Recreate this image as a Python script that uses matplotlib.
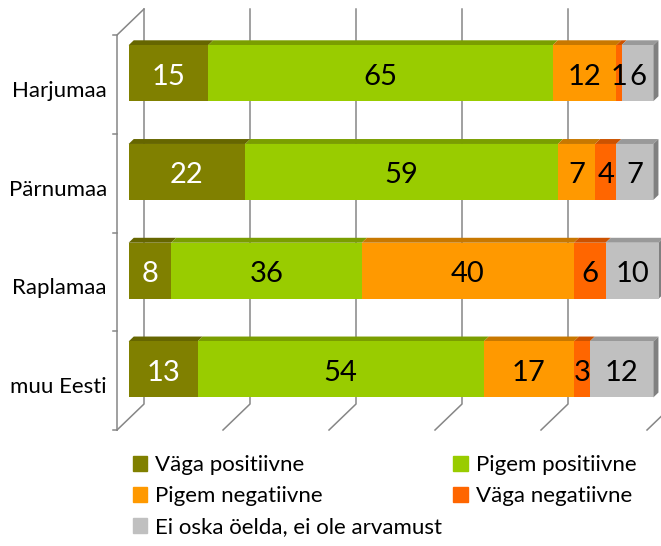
import matplotlib
matplotlib.use('Agg')
import matplotlib.pyplot as plt
from matplotlib.patches import Polygon, Patch

plt.rcParams['font.family'] = ['Lato', 'DejaVu Sans']

# andmed
regions = ['Harjumaa', 'Pärnumaa', 'Raplamaa', 'muu Eesti']
series = ['Väga positiivne', 'Pigem positiivne', 'Pigem negatiivne',
          'Väga negatiivne', 'Ei oska öelda, ei ole arvamust']
vaga_pos = [15, 22, 8, 13]
pigem_pos = [65, 59, 36, 54]
pigem_neg = [12, 7, 40, 17]
vaga_neg = [1, 4, 6, 3]
ei_oska = [6, 7, 10, 12]
values = [vaga_pos, pigem_pos, pigem_neg, vaga_neg, ei_oska]

front_colors = ['#808000', '#99cc00', '#ff9900', '#ff6600', '#c0c0c0']
top_colors = ['#666600', '#7a9e00', '#c87800', '#cc5200', '#999999']
text_colors = ['white', 'black', 'black', 'black', 'black']
grid_color = '#868686'

# pseudo-3D geomeetria (pikslid -> andmeühikud)
PX = 5.3      # px protsendi kohta
PY = 98.75    # px kategooria kohta
DX = 27 / PX
DY = -26 / PY
d0, d1 = 0.43, 0.62
H = 0.567


def proj(x, y, d):
    return x + d * DX, y + d * DY


fig = plt.figure(figsize=(6.61, 5.46), dpi=100)
ax = fig.add_axes([0, 0, 1, 1])
ax.set_xlim(-117 / PX, (661 - 117) / PX)
ax.set_ylim((546 - 84.4) / PY, -84.4 / PY)
ax.axis('off')

n = len(regions)
top, bottom = -0.5, n - 0.5

# tagasein ja põrand
for g in range(0, 101, 20):
    x0, y0 = proj(g, top, 1)
    x1, y1 = proj(g, bottom, 1)
    x2, y2 = proj(g, bottom, 0)
    ax.plot([x0, x1, x2], [y0, y1, y2], color=grid_color, lw=1.1, zorder=1)

# vasak telg
x0, y0 = proj(0, top, 1)
x1, y1 = proj(0, top, 0)
x2, y2 = proj(0, bottom, 0)
ax.plot([x0, x1, x2], [y0, y1, y2], color=grid_color, lw=1.1, zorder=1)
for k in range(n + 1):
    ax.plot([-4 / PX, 0], [top + k, top + k], color=grid_color, lw=1.1, zorder=1)

# tulbad
for i, name in enumerate(regions):
    left = 0
    for k in range(len(series)):
        v = values[k][i]
        fx, fy = proj(left, i, d0)
        ax.barh(fy, v, left=fx, height=H, color=front_colors[k], zorder=3)
        face = [proj(left, i - H / 2, d0), proj(left + v, i - H / 2, d0),
                proj(left + v, i - H / 2, d1), proj(left, i - H / 2, d1)]
        ax.add_patch(Polygon(face, closed=True, color=top_colors[k], lw=0, zorder=2))
        ax.text(fx + v / 2, fy + 11.5 / PY, str(v), ha='center', va='baseline',
                fontsize=21, color=text_colors[k], zorder=5)
        left += v
    side = [proj(left, i - H / 2, d0), proj(left, i + H / 2, d0),
            proj(left, i + H / 2, d1), proj(left, i - H / 2, d1)]
    ax.add_patch(Polygon(side, closed=True, color='#808080', lw=0, zorder=2))
    ax.text(-10 / PX, i + 12.6 / PY, name, ha='right', va='baseline', fontsize=16)

# legend
order = [0, 2, 4, 1, 3]
handles = [Patch(color=front_colors[k]) for k in order]
labels = [series[k] for k in order]
fig.legend(handles, labels, ncol=2, loc='upper left',
           bbox_to_anchor=(133 / 661, 1 - 455 / 546), frameon=False,
           fontsize=16, handlelength=0.65, handleheight=0.65, handletextpad=0.35,
           labelspacing=0.5, columnspacing=0.5, borderpad=0, borderaxespad=0)

fig.savefig('out.png', dpi=100)
